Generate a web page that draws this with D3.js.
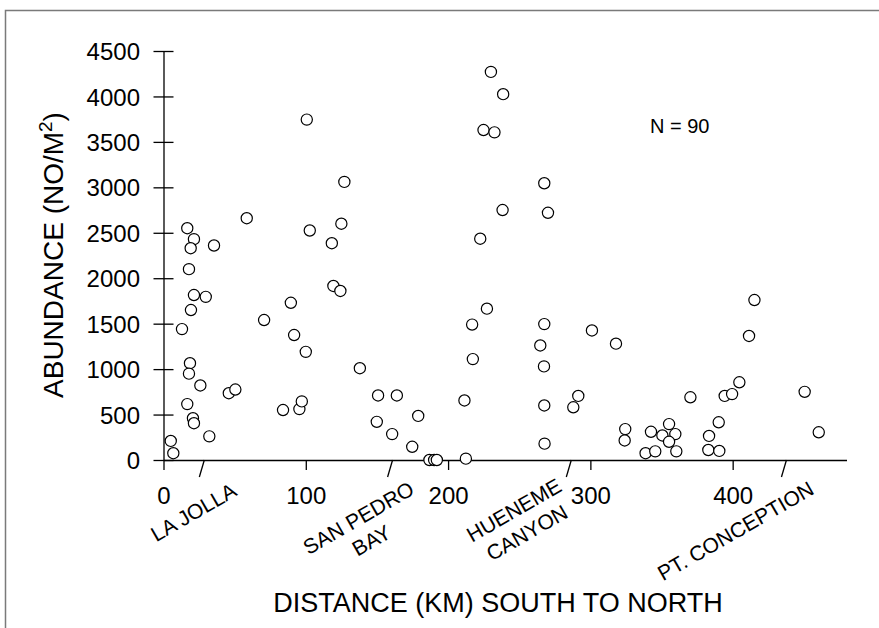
<!DOCTYPE html>
<html>
<head>
<meta charset="utf-8">
<script src="https://cdn.jsdelivr.net/npm/d3@7"></script>
<style>
  body { margin: 0; background: #fff; }
  svg { display: block; }
  text { font-family: "Liberation Sans", Arial, sans-serif; fill: #000; }
</style>
</head>
<body>
<div id="chart"></div>
<script>
// station distance (km, south to north) and abundance (no/m2)
var distanceKm = [
  16.7, 21.4, 19.1, 35.5, 58.5, 17.9, 21.4, 29.7, 19.3, 13.0,
  70.7, 89.5, 91.8, 18.6, 17.9, 25.9, 45.9, 50.5, 16.7, 20.7,
  21.4, 32.2, 5.1, 6.9, 84.0, 95.5, 97.2, 100.7, 127.1, 230.1,
  238.7, 224.9, 232.6, 267.6, 238.3, 270.2, 102.8, 125.0, 118.3, 222.6,
  119.4, 124.3, 100.0, 138.0, 227.3, 216.9, 217.4, 211.5, 212.5, 267.6,
  264.8, 267.4, 267.6, 267.8, 150.8, 164.0, 149.9, 160.7, 179.0, 174.8,
  186.9, 190.2, 192.1, 291.5, 288.0, 301.1, 318.0, 324.5, 324.1, 338.8,
  345.6, 342.6, 350.6, 355.3, 359.7, 355.3, 360.4, 370.3, 383.4, 390.2,
  382.9, 390.6, 394.4, 399.6, 404.7, 411.5, 415.3, 450.6, 460.5
];
var abundance = [
  2550, 2430, 2330, 2360, 2660, 2100, 1815, 1795, 1650, 1440,
  1540, 1730, 1375, 1065, 950, 820, 735, 775, 615, 460,
  405, 260, 210, 75, 550, 560, 645, 3745, 3060, 4270,
  4025, 3630, 3605, 3045, 2750, 2720, 2525, 2600, 2385, 2435,
  1915, 1860, 1190, 1010, 1665, 1490, 1110, 655, 15, 1495,
  1260, 1030, 600, 180, 710, 710, 420, 285, 485, 145,
  0, 0, 0, 705, 580, 1425, 1280, 340, 215, 75,
  95, 310, 270, 395, 285, 200, 95, 690, 265, 415,
  110, 100, 705, 725, 855, 1365, 1760, 750, 305
];
var sampleCount = 90;

var yTicks = [0, 500, 1000, 1500, 2000, 2500, 3000, 3500, 4000, 4500];
var xTicks = [0, 100, 200, 300, 400];

// landmarks along the coast
var placeNames = [["LA JOLLA"], ["SAN PEDRO", "BAY"], ["HUENEME", "CANYON"], ["PT. CONCEPTION"]];
var placeKm = [28.7, 161, 286.6, 437.8];

var width = 879, height = 628;

var svg = d3.select("#chart").append("svg")
    .attr("width", width)
    .attr("height", height);

// outer frame
svg.append("rect")
    .attr("x", 5.5)
    .attr("y", 10.5)
    .attr("width", 1000)
    .attr("height", 1000)
    .style("fill", "none")
    .style("stroke", "#7a7a7a")
    .style("stroke-width", 1.5);

var x = d3.scaleLinear().domain([0, 480]).range([163.5, 846.5]);
var y = d3.scaleLinear().domain([0, 4500]).range([460, 51]);

// y axis, ticks cross the line
var yAxis = svg.append("g")
    .attr("transform", "translate(163.5,0)")
    .call(d3.axisLeft(y).tickValues(yTicks).tickFormat(d3.format("d"))
        .tickSize(10).tickSizeOuter(0).tickPadding(13.5));
yAxis.selectAll(".tick line").attr("x1", 10);
yAxis.selectAll(".tick text")
    .attr("font-size", 24)
    .attr("font-family", "Liberation Sans, Arial, sans-serif")
    .attr("dy", "0.36em");

// x axis
var xAxis = svg.append("g")
    .attr("transform", "translate(0,460)")
    .call(d3.axisBottom(x).tickValues(xTicks).tickFormat(d3.format("d"))
        .tickSize(10).tickSizeOuter(0).tickPadding(17));
xAxis.selectAll(".tick text")
    .attr("font-size", 24)
    .attr("font-family", "Liberation Sans, Arial, sans-serif");

svg.selectAll(".domain, .tick line")
    .style("stroke", "#000")
    .style("stroke-width", 1.3);

// slanted marks for landmarks
svg.selectAll(".place-mark")
    .data(placeKm)
    .enter().append("line")
    .attr("class", "place-mark")
    .attr("x1", function(d) { return x(d); })
    .attr("y1", 460)
    .attr("x2", function(d) { return x(d) - 5; })
    .attr("y2", 477)
    .style("stroke", "#000")
    .style("stroke-width", 1.3);

// label offsets from each mark (block centre)
var labelShift = [[-10.8, 512], [-27.7, 529], [-51, 521.3], [-51, 530.8]];

var places = svg.selectAll(".place")
    .data(placeNames)
    .enter().append("g")
    .attr("class", "place")
    .attr("transform", function(d, i) {
        return "translate(" + (x(placeKm[i]) + labelShift[i][0]) + "," + labelShift[i][1] + ") rotate(-30)";
    });

places.each(function(lines) {
    var g = d3.select(this);
    var lineH = 26;
    lines.forEach(function(t, k) {
        g.append("text")
            .attr("x", 0)
            .attr("y", (k - (lines.length - 1) / 2) * lineH + 7.5)
            .attr("text-anchor", "middle")
            .attr("font-size", 21)
            .text(t);
    });
});

// points
svg.selectAll(".pt")
    .data(distanceKm)
    .enter().append("circle")
    .attr("class", "pt")
    .attr("cx", function(d) { return x(d); })
    .attr("cy", function(d, i) { return y(abundance[i]); })
    .attr("r", 5.6)
    .style("fill", "#fff")
    .style("stroke", "#000")
    .style("stroke-width", 1.2);

// axis titles
var yTitle = svg.append("text")
    .attr("transform", "translate(63,255) rotate(-90)")
    .attr("text-anchor", "middle")
    .attr("font-size", 28);
yTitle.append("tspan").text("ABUNDANCE (NO/M");
yTitle.append("tspan").attr("font-size", 19).attr("dy", -11).text("2");
yTitle.append("tspan").attr("dy", 11).text(")");

svg.append("text")
    .attr("x", 498)
    .attr("y", 612)
    .attr("text-anchor", "middle")
    .attr("font-size", 27)
    .text("DISTANCE (KM) SOUTH TO NORTH");

svg.append("text")
    .attr("x", 650)
    .attr("y", 133)
    .attr("font-size", 20)
    .text("N = " + sampleCount);
</script>
</body>
</html>
